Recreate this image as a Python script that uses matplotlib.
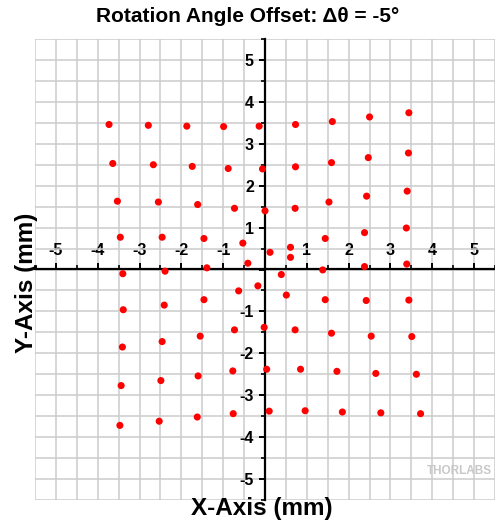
import matplotlib.pyplot as plt
from matplotlib.ticker import MultipleLocator, FixedLocator

plt.rcParams["font.family"] = ["Liberation Sans", "DejaVu Sans"]
plt.rcParams["axes.unicode_minus"] = False

# measured spot positions (mm), one row of the 9x9 pattern per line
x_pos = [
    -3.73, -2.79, -1.87, -0.99, -0.14, 0.73, 1.61, 2.50, 3.44,
    -3.64, -2.67, -1.74, -0.88, -0.06, 0.73, 1.59, 2.47, 3.43,
    -3.53, -2.55, -1.61, -0.73, 0.00, 0.72, 1.53, 2.43, 3.40,
    -3.46, -2.46, -1.46, -0.53, 0.12, 0.61, 0.61, 1.44, 2.38, 3.38,
    -3.40, -2.39, -1.39, -0.41, 0.39, 1.38, 2.38, 3.39,
    -3.39, -2.41, -1.46, -0.63, -0.17, 0.51, 1.44, 2.42, 3.44,
    -3.41, -2.46, -1.55, -0.73, -0.02, 0.72, 1.59, 2.54, 3.51,
    -3.44, -2.49, -1.60, -0.77, 0.04, 0.85, 1.72, 2.65, 3.62,
    -3.47, -2.53, -1.62, -0.76, 0.10, 0.96, 1.85, 2.77, 3.72,
]
y_pos = [
    3.46, 3.44, 3.42, 3.41, 3.42, 3.46, 3.53, 3.64, 3.74,
    2.53, 2.50, 2.46, 2.41, 2.40, 2.45, 2.55, 2.67, 2.78,
    1.63, 1.61, 1.55, 1.46, 1.40, 1.46, 1.61, 1.75, 1.87,
    0.77, 0.77, 0.74, 0.63, 0.41, 0.53, 0.29, 0.74, 0.88, 0.99,
    -0.10, -0.04, 0.04, 0.15, -0.12, -0.01, 0.07, 0.13,
    -0.96, -0.85, -0.72, -0.51, -0.39, -0.61, -0.72, -0.74, -0.73,
    -1.85, -1.72, -1.59, -1.44, -1.38, -1.44, -1.52, -1.59, -1.60,
    -2.77, -2.65, -2.54, -2.42, -2.38, -2.38, -2.43, -2.48, -2.50,
    -3.72, -3.62, -3.52, -3.44, -3.38, -3.37, -3.40, -3.42, -3.44,
]
ticks = [-5, -4, -3, -2, -1, 0, 1, 2, 3, 4, 5]
tick_labels = ["-5", "-4", "-3", "-2", "-1", "", "1", "2", "3", "4", "5"]

fig = plt.figure(figsize=(4.95, 5.25), dpi=100)
ax = fig.add_axes([35 / 495, 25 / 525, 460 / 495, 461 / 525])
ax.set_xlim(-5.5, 5.5)
ax.set_ylim(-5.5, 5.5)

# axes crossing at the origin
for side in ["bottom", "right"]:
    ax.spines[side].set_visible(False)
ax.spines["left"].set_position(("data", 0))
ax.spines["top"].set_position(("data", 0))
for side in ["left", "top"]:
    ax.spines[side].set_linewidth(1.6)
    ax.spines[side].set_zorder(3)

ax.xaxis.set_ticks_position("top")
ax.yaxis.set_ticks_position("left")
ax.xaxis.set_major_locator(FixedLocator(ticks))
ax.yaxis.set_major_locator(FixedLocator(ticks))
ax.set_xticklabels(tick_labels)
ax.set_yticklabels(tick_labels)
ax.xaxis.set_minor_locator(MultipleLocator(0.5))
ax.yaxis.set_minor_locator(MultipleLocator(0.5))
ax.tick_params(which="major", direction="out", length=4.5, width=1.4, pad=3.5,
               labelsize=11.5)
ax.tick_params(which="minor", direction="out", length=3, width=1.2)
for lbl in ax.get_xticklabels() + ax.get_yticklabels():
    lbl.set_fontweight("bold")

ax.grid(True, which="both", color="#cccccc", linewidth=1.1, zorder=0)
ax.set_axisbelow(True)

ax.scatter(x_pos, y_pos, s=26, color="red", edgecolors="none", zorder=5, clip_on=False)

fig.text(248 / 495, 1 - 17 / 525, "Rotation Angle Offset: \u0394\u03b8 = -5\u00b0",
         ha="center", va="center", fontsize=15, fontweight="bold")
fig.text(262 / 495, 1 - 508 / 525, "X-Axis (mm)", ha="center", va="center",
         fontsize=17.5, fontweight="bold")
fig.text(27 / 495, 1 - 283 / 525, "Y-Axis (mm)", ha="center", va="center",
         rotation=90, fontsize=17.5, fontweight="bold")
fig.text(459 / 495, 1 - 471 / 525, "THORLABS", ha="center", va="center",
         fontsize=8.5, fontweight="bold", color="#c8c8c8")

fig.savefig("out.png", dpi=100)
